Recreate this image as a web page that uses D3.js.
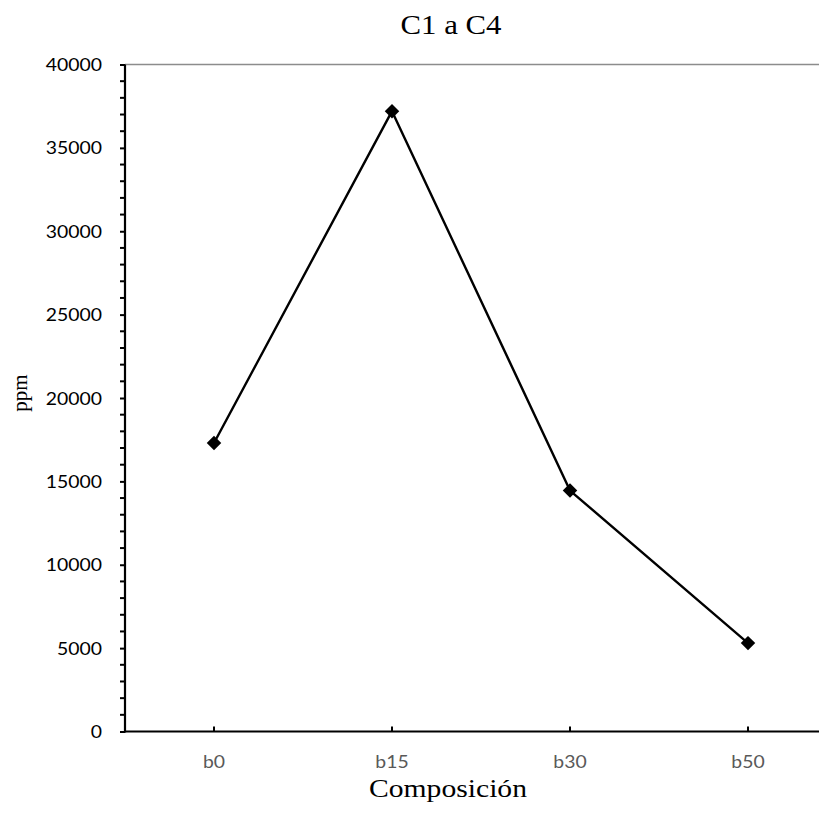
<!DOCTYPE html>
<html>
<head>
<meta charset="utf-8">
<script src="https://cdn.jsdelivr.net/npm/d3@7"></script>
<style>
  html, body { margin: 0; padding: 0; background: #fff; }
  svg { display: block; }
</style>
</head>
<body>
<svg id="chart" width="819" height="815"></svg>
<script>
// Series: C1 to C4 content (ppm) for each composition
const categories = ["b0", "b15", "b30", "b50"];
const ppmValues = [17300, 37200, 14450, 5300];
const yTickValues = [0, 5000, 10000, 15000, 20000, 25000, 30000, 35000, 40000];
const yMinorStep = 1000;

const chartTitle = "C1 a C4";
const xTitle = "Composición";
const yTitle = "ppm";

const plot = { left: 125, top: 64.5, bottom: 731.5, right: 837 };
const sx = 1.14; // horizontal text stretch

const svg = d3.select("#chart");

const x = d3.scaleBand().domain(categories).range([plot.left, plot.right]).padding(0);
const y = d3.scaleLinear().domain([0, 40000]).range([plot.bottom, plot.top]);
const cx = d => x(d) + x.bandwidth() / 2;

// top frame line
svg.append("line")
  .attr("x1", plot.left).attr("x2", plot.right)
  .attr("y1", plot.top).attr("y2", plot.top)
  .attr("stroke", "#8c8c8c").attr("stroke-width", 1.5);

// minor y ticks
const minor = d3.range(0, 40001, yMinorStep).filter(v => v % 5000 !== 0);
svg.append("g").selectAll("line").data(minor).join("line")
  .attr("x1", plot.left - 5).attr("x2", plot.left)
  .attr("y1", d => y(d)).attr("y2", d => y(d))
  .attr("stroke", "#000").attr("stroke-width", 2);

// y axis
const yAxis = svg.append("g")
  .attr("transform", `translate(${plot.left},0)`)
  .call(d3.axisLeft(y).tickValues(yTickValues).tickSize(5).tickPadding(0).tickFormat(d3.format("d")));
yAxis.select(".domain").attr("stroke", "#000").attr("stroke-width", 2.2)
  .attr("d", `M0,${plot.top}V${plot.bottom + 1}`);
yAxis.selectAll(".tick line").attr("stroke", "#000").attr("stroke-width", 2);
yAxis.selectAll(".tick text")
  .attr("x", null).attr("dy", null)
  .attr("transform", `translate(-23,6) scale(${sx},1)`)
  .attr("text-anchor", "end")
  .attr("font-family", "Lato, 'Open Sans', sans-serif")
  .attr("font-size", 17)
  .attr("fill", "#000");

// x axis
const xAxis = svg.append("g")
  .attr("transform", `translate(0,${plot.bottom})`)
  .call(d3.axisBottom(x).tickSize(-5).tickPadding(0));
xAxis.select(".domain").attr("stroke", "#000").attr("stroke-width", 2.2)
  .attr("d", `M${plot.left - 1},0H${plot.right}`);
xAxis.selectAll(".tick line").attr("stroke", "#000").attr("stroke-width", 2);
xAxis.selectAll(".tick text")
  .attr("y", null).attr("dy", null)
  .attr("transform", `translate(0,36) scale(${sx},1)`)
  .attr("text-anchor", "middle")
  .attr("font-family", "Lato, 'Open Sans', sans-serif")
  .attr("font-size", 17)
  .attr("fill", "#595959");

// data line
const line = d3.line().x((d, i) => cx(categories[i])).y(d => y(d));
svg.append("path")
  .datum(ppmValues)
  .attr("d", line)
  .attr("fill", "none")
  .attr("stroke", "#000")
  .attr("stroke-width", 2.4)
  .attr("stroke-linejoin", "round");

// diamond markers
const diamond = d3.symbol().type(d3.symbolSquare).size(105);
svg.append("g").selectAll("path").data(ppmValues).join("path")
  .attr("d", diamond)
  .attr("transform", (d, i) => `translate(${cx(categories[i])},${y(d)}) rotate(45)`)
  .attr("fill", "#000");

// titles
svg.append("text")
  .attr("transform", `translate(451,34) scale(${sx},1)`)
  .attr("text-anchor", "middle")
  .attr("font-family", "'Liberation Serif', 'Times New Roman', serif")
  .attr("font-size", 27)
  .attr("fill", "#000")
  .text(chartTitle);

svg.append("text")
  .attr("transform", `translate(448,797) scale(${sx},1)`)
  .attr("text-anchor", "middle")
  .attr("font-family", "'Liberation Serif', 'Times New Roman', serif")
  .attr("font-size", 26)
  .attr("fill", "#000")
  .text(xTitle);

svg.append("text")
  .attr("transform", `translate(27,393) rotate(-90)`)
  .attr("text-anchor", "middle")
  .attr("font-family", "'Liberation Serif', 'Times New Roman', serif")
  .attr("font-size", 21)
  .attr("fill", "#000")
  .text(yTitle);
</script>
</body>
</html>
